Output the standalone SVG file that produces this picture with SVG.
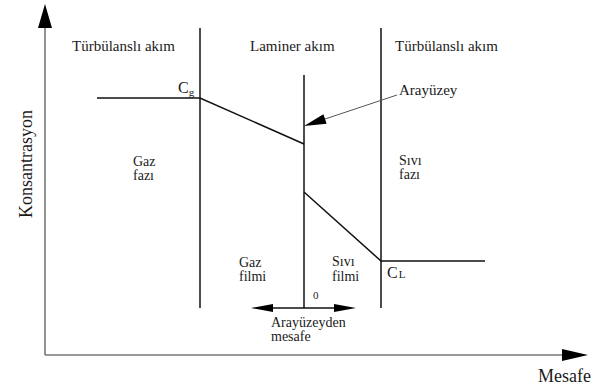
<svg xmlns="http://www.w3.org/2000/svg" width="613" height="392" viewBox="0 0 613 392" font-family="'Liberation Serif', 'DejaVu Serif', serif">
<style>
text{font-family:'Liberation Serif','DejaVu Serif',serif;fill:#1a1a1a;font-size:15px}
.big{font-size:18px}
.sm{font-size:14px}
.ln{stroke:#111;stroke-width:1.5;fill:none}
.ax{stroke:#777;stroke-width:1.6;fill:none}
.lead{stroke:#555;stroke-width:1;fill:none}
.ah{fill:#000;stroke:none}
</style>
<rect width="613" height="392" fill="#fff"/>
<g id="axes">
<line class="ax" x1="45" y1="355" x2="45" y2="24"/>
<polygon class="ah" points="45,4 38,28 52,28"/>
<line class="ax" x1="45" y1="355" x2="566" y2="355"/>
<polygon class="ah" points="588,355 562,349 562,361"/>
<text class="big" transform="translate(32,164) rotate(-90)" text-anchor="middle">Konsantrasyon</text>
<text class="big" x="538" y="382">Mesafe</text>
</g>
<g id="boundaries">
<line class="ln" x1="200" y1="28" x2="200" y2="308"/>
<line class="ln" x1="304" y1="75" x2="304" y2="308"/>
<line class="ln" x1="381" y1="28" x2="381" y2="308"/>
</g>
<g id="profile">
<polyline class="ln" points="97,98 200,98 304,144"/>
<polyline class="ln" points="304,192 381,261 485,261"/>
</g>
<g id="connectors">
<line class="lead" x1="397" y1="95" x2="320" y2="120.7"/>
<polygon class="ah" points="304,126 323.4,114.3 326.6,123.7"/>
<line class="ln" x1="262" y1="308" x2="345" y2="308"/>
<polygon class="ah" points="251,308 273,304 273,312"/>
<polygon class="ah" points="356,308 334,304 334,312"/>
</g>
<g id="labels">
<text x="72" y="51">Türbülanslı akım</text>
<text x="250" y="51">Laminer akım</text>
<text x="395" y="51">Türbülanslı akım</text>
<text x="399" y="95">Arayüzey</text>
<text class="sm" x="133" y="166">Gaz</text>
<text class="sm" x="133" y="180">fazı</text>
<text class="sm" x="399" y="165">Sıvı</text>
<text class="sm" x="399" y="179">fazı</text>
<text class="sm" x="239" y="267">Gaz</text>
<text class="sm" x="239" y="281">filmi</text>
<text class="sm" x="332" y="266">Sıvı</text>
<text class="sm" x="332" y="281">filmi</text>
<text x="313" y="299" style="font-size:11px">0</text>
<text class="sm" x="271" y="327">Arayüzeyden</text>
<text class="sm" x="271" y="341">mesafe</text>
<text x="178" y="93" style="font-size:16px">C<tspan dy="3" style="font-size:11px">g</tspan></text>
<text x="387" y="278" style="font-size:16px">C<tspan dx="1" style="font-size:11px">L</tspan></text>
</g>
</svg>
